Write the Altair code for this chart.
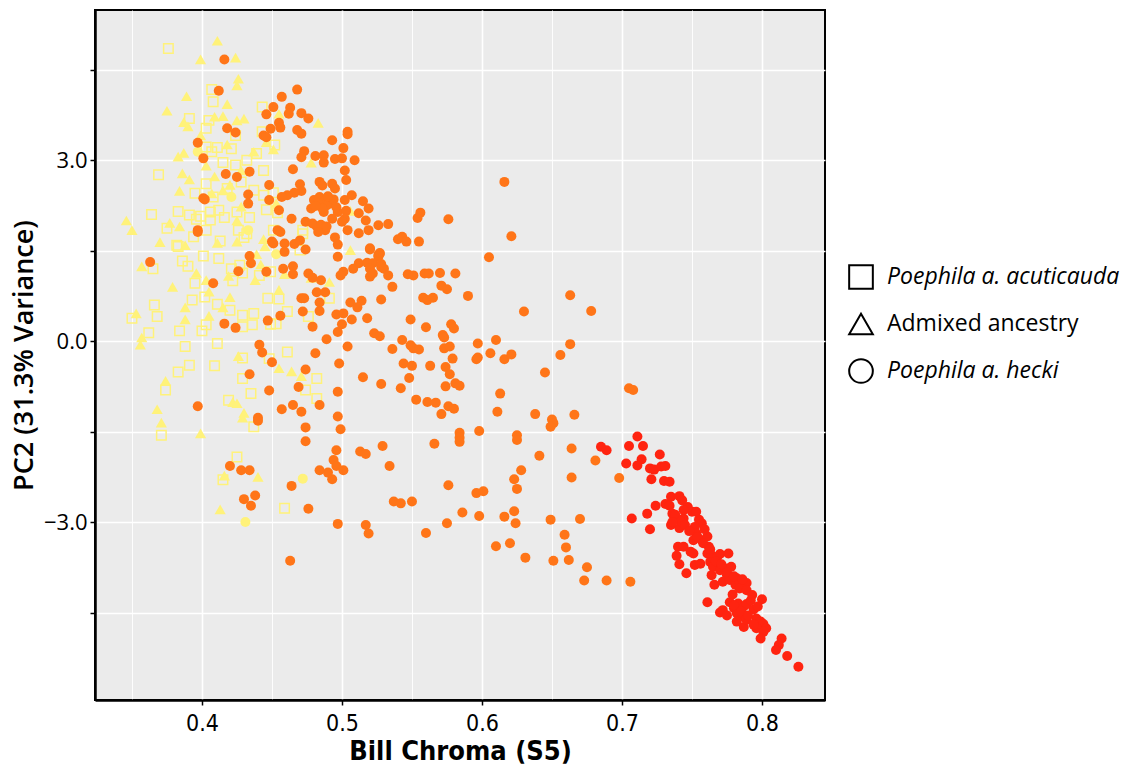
import altair as alt
import pandas as pd

# ---------------- data (Bill Chroma S5, PC2) ----------------
acuticauda_pts = [
    (0.376, 4.85), (0.407, 4.17), (0.408, 3.97), (0.443, 3.88), (0.391, 3.69), (0.405, 3.66),
    (0.403, 3.53), (0.424, 3.41), (0.443, 3.47), (0.452, 3.25), (0.403, 3.22), (0.411, 3.21),
    (0.421, 3.19), (0.439, 3.11), (0.407, 3.14), (0.415, 2.96), (0.424, 2.92), (0.432, 3.00),
    (0.369, 2.76), (0.444, 2.83), (0.403, 2.61), (0.418, 2.53), (0.428, 2.64), (0.395, 2.45),
    (0.408, 2.39), (0.437, 2.50), (0.444, 2.42), (0.451, 2.46), (0.364, 2.10), (0.383, 2.15),
    (0.391, 2.09), (0.399, 2.07), (0.406, 2.14), (0.412, 2.17), (0.425, 2.14), (0.434, 2.05),
    (0.446, 2.18), (0.454, 2.13), (0.375, 1.87), (0.403, 1.84), (0.426, 1.84), (0.394, 1.73),
    (0.382, 1.59), (0.413, 1.66), (0.430, 1.72), (0.451, 1.84), (0.472, 1.84), (0.396, 2.02),
    (0.416, 2.05), (0.406, 2.01),
    (0.383, 1.57), (0.386, 1.33), (0.390, 1.24), (0.365, 1.20), (0.366, 0.60), (0.368, 0.41),
    (0.350, 0.38), (0.362, 0.14), (0.384, 0.17), (0.388, -0.09), (0.383, -0.51), (0.391, -0.40),
    (0.374, -0.81), (0.371, -1.56), (0.401, 1.41), (0.412, 1.37), (0.395, 0.96), (0.402, 0.73),
    (0.393, 0.68), (0.411, 0.61), (0.400, 0.17), (0.411, -0.04), (0.409, -0.41), (0.403, 0.27),
    (0.421, 1.20), (0.422, 1.00), (0.427, 1.26), (0.429, 1.13), (0.420, 0.51), (0.429, 0.43),
    (0.437, 0.46), (0.429, 0.24), (0.436, 0.27), (0.447, 0.71), (0.455, 0.70), (0.461, 0.49),
    (0.453, 0.29), (0.449, 0.28), (0.441, 1.09), (0.449, 1.15), (0.461, -0.18), (0.448, -0.29),
    (0.429, -0.28), (0.429, -0.62), (0.435, -0.87), (0.419, -0.98), (0.437, -1.42), (0.425, -1.92),
    (0.459, -2.77), (0.482, -0.62), (0.474, -0.81), (0.482, -0.95), (0.491, 0.71), (0.476, 0.41),
    (0.470, 1.51), (0.472, 1.78), (0.432, 1.78), (0.415, -2.30),
]

admixed_pts = [
    (0.411, 4.98), (0.399, 4.67), (0.424, 4.70), (0.426, 4.35), (0.425, 4.24), (0.389, 4.06),
    (0.375, 3.82), (0.418, 3.93), (0.387, 3.63), (0.390, 3.56), (0.409, 3.72), (0.415, 3.73),
    (0.425, 3.66), (0.430, 3.69), (0.455, 3.77), (0.483, 3.62), (0.399, 3.41), (0.418, 3.26),
    (0.437, 3.14), (0.451, 3.18), (0.446, 3.30), (0.383, 3.06), (0.387, 3.12), (0.403, 2.91),
    (0.478, 2.96), (0.386, 2.78), (0.391, 2.68), (0.409, 2.73), (0.428, 2.83), (0.420, 2.59),
    (0.384, 2.49), (0.415, 2.50), (0.407, 2.45), (0.428, 2.23), (0.453, 2.29), (0.346, 2.00),
    (0.350, 1.84), (0.377, 1.96), (0.384, 1.90), (0.425, 2.00), (0.370, 1.64), (0.388, 1.59),
    (0.411, 1.63), (0.444, 1.69), (0.506, 2.16),
    (0.425, 1.65), (0.445, 1.57), (0.357, 1.24), (0.379, 0.90), (0.396, 1.13), (0.403, 1.01),
    (0.405, 0.82), (0.419, 1.08), (0.438, 1.01), (0.442, 1.27), (0.459, 1.11), (0.455, 0.85),
    (0.439, 1.44), (0.506, 1.51), (0.478, 1.05), (0.491, 0.98), (0.420, 0.73), (0.388, 0.56),
    (0.388, 0.36), (0.405, 0.42), (0.415, 0.56), (0.353, 0.46), (0.357, 0.06), (0.356, -0.06),
    (0.426, -0.25), (0.455, -0.45), (0.464, -0.50), (0.471, -0.58), (0.374, -0.66), (0.368, -1.13),
    (0.371, -1.35), (0.399, -1.53), (0.422, -1.01), (0.425, -1.03), (0.430, -1.19), (0.429, -1.27),
    (0.416, -2.23), (0.440, -2.25), (0.413, -2.79),
]

hecki_yellow_pts = [
    (0.397, 3.14), (0.421, 2.39), (0.433, 1.84), (0.453, 1.44), (0.472, -2.28), (0.431, -3.00),
]

hecki_orange_pts = [
    (0.416, 4.67), (0.412, 4.15), (0.418, 3.53), (0.424, 3.46), (0.397, 3.29), (0.401, 3.03),
    (0.417, 2.77), (0.425, 2.72), (0.434, 2.81), (0.401, 2.37), (0.402, 2.35), (0.433, 2.43),
    (0.433, 2.28), (0.397, 1.84),
    (0.468, 4.17), (0.457, 4.05), (0.451, 3.88), (0.463, 3.87), (0.446, 3.76), (0.462, 3.77),
    (0.471, 3.78), (0.476, 3.69), (0.455, 3.62), (0.456, 3.54), (0.449, 3.52), (0.444, 3.41),
    (0.446, 3.38), (0.468, 3.50), (0.471, 3.44), (0.493, 3.33), (0.504, 3.47), (0.504, 3.43),
    (0.501, 3.20), (0.473, 3.15), (0.471, 3.05), (0.481, 3.07), (0.487, 3.08), (0.487, 2.96),
    (0.495, 3.02), (0.500, 3.03), (0.509, 3.00), (0.502, 2.83), (0.503, 2.67), (0.465, 2.85),
    (0.484, 2.64), (0.493, 2.61), (0.470, 2.60), (0.471, 2.49), (0.466, 2.46), (0.461, 2.42),
    (0.457, 2.39), (0.448, 2.59), (0.448, 2.34), (0.486, 2.58), (0.495, 2.53), (0.507, 2.42),
    (0.480, 2.34), (0.484, 2.39), (0.487, 2.31), (0.491, 2.28), (0.478, 2.20), (0.487, 2.14),
    (0.497, 2.14), (0.502, 2.34), (0.503, 2.16), (0.502, 2.03), (0.512, 2.12), (0.515, 2.32),
    (0.519, 2.20), (0.517, 2.00), (0.464, 2.03), (0.474, 1.98), (0.482, 1.90), (0.484, 1.84),
    (0.488, 1.84), (0.493, 2.03), (0.455, 2.17), (0.454, 1.84), (0.456, 1.81), (0.500, 1.98),
    (0.526, 1.92), (0.533, 1.94), (0.519, 1.84), (0.495, 1.72), (0.450, 1.65),
    (0.489, 2.25), (0.483, 2.28), (0.494, 2.35), (0.490, 2.40), (0.486, 2.20), (0.481, 2.24),
    (0.496, 2.22), (0.479, 1.95), (0.485, 1.93), (0.489, 1.90),
    (0.397, 1.81), (0.363, 1.31), (0.408, 0.96), (0.426, 1.16), (0.434, 1.41), (0.435, 1.29),
    (0.446, 1.15), (0.451, 1.62), (0.459, 1.62), (0.459, 1.48), (0.466, 1.61), (0.470, 1.67),
    (0.474, 1.52), (0.458, 1.20), (0.465, 1.24), (0.465, 1.11), (0.476, 1.12), (0.479, 1.05),
    (0.485, 1.01), (0.482, 0.81), (0.488, 0.81), (0.471, 0.71), (0.473, 0.71), (0.484, 0.64),
    (0.484, 0.50), (0.472, 0.49), (0.497, 1.40), (0.497, 1.60), (0.483, 1.81), (0.504, 1.84),
    (0.512, 1.79), (0.520, 1.52), (0.527, 1.45), (0.526, 1.40), (0.512, 1.29), (0.518, 1.30),
    (0.522, 1.29), (0.520, 1.20), (0.508, 1.20), (0.501, 1.15), (0.499, 1.09), (0.520, 1.07),
    (0.522, 1.12), (0.528, 1.23), (0.506, 0.64), (0.514, 0.67), (0.511, 0.56), (0.496, 0.44),
    (0.501, 0.46), (0.507, 0.36), (0.518, 0.38), (0.500, 0.28), (0.497, 0.15), (0.528, 0.69),
    (0.523, 0.13), (0.527, 0.08), (0.489, 0.03), (0.504, -0.09), (0.479, 0.24), (0.447, 0.34),
    (0.456, 0.42), (0.416, 0.29), (0.424, 0.22), (0.441, -0.06), (0.443, -0.19), (0.450, -0.35),
    (0.481, -0.20), (0.498, -0.37), (0.474, -0.47), (0.469, -0.76), (0.465, -1.06), (0.457, -1.13),
    (0.471, -1.17), (0.484, -1.06), (0.497, -0.84), (0.448, -0.82), (0.434, -0.55), (0.515, -0.60),
    (0.528, -0.71), (0.397, -1.08), (0.440, -1.27), (0.440, -1.32), (0.497, -1.25), (0.499, -1.46),
    (0.474, -1.43), (0.474, -1.66), (0.496, -1.81), (0.494, -1.97), (0.496, -2.07), (0.501, -2.14),
    (0.493, -2.29), (0.490, -2.18), (0.484, -2.14), (0.513, -1.83), (0.517, -1.87), (0.529, -1.74),
    (0.534, -2.07), (0.420, -2.07), (0.428, -2.14), (0.434, -2.14), (0.464, -2.40), (0.430, -2.62),
    (0.438, -2.56), (0.435, -2.73), (0.476, -2.78), (0.497, -3.03), (0.517, -3.05), (0.519, -3.19),
    (0.463, -3.64),
    (0.554, 2.04), (0.556, 2.13), (0.576, 2.02), (0.540, 1.69), (0.543, 1.73), (0.546, 1.65),
    (0.555, 1.65), (0.520, 1.54), (0.526, 1.43), (0.527, 1.46), (0.528, 1.28), (0.530, 1.20),
    (0.533, 1.09), (0.536, 0.90), (0.547, 1.11), (0.551, 1.09), (0.559, 1.12), (0.562, 1.12),
    (0.570, 1.13), (0.581, 1.12), (0.571, 0.92), (0.575, 0.86), (0.558, 0.72), (0.561, 0.68),
    (0.565, 0.72), (0.616, 2.64), (0.621, 1.74), (0.605, 1.39), (0.663, 0.76), (0.678, 0.50),
    (0.630, 0.49), (0.590, 0.75),
    (0.549, 0.36), (0.560, 0.23), (0.578, 0.28), (0.580, 0.21), (0.572, 0.10), (0.573, 0.06),
    (0.543, 0.02), (0.536, -0.13), (0.549, -0.07), (0.551, -0.12), (0.555, -0.14), (0.573, -0.12),
    (0.577, -0.09), (0.597, -0.04), (0.610, 0.02), (0.663, -0.05), (0.606, -0.20), (0.596, -0.30),
    (0.597, -0.27), (0.616, -0.30), (0.621, -0.22), (0.656, -0.23), (0.544, -0.37), (0.550, -0.41),
    (0.563, -0.41), (0.574, -0.43), (0.579, -0.29), (0.577, -0.55), (0.548, -0.61), (0.542, -0.78),
    (0.574, -0.75), (0.581, -0.70), (0.584, -0.74), (0.645, -0.52), (0.553, -0.97), (0.561, -1.01),
    (0.567, -1.02), (0.571, -1.21), (0.576, -1.08), (0.580, -1.12), (0.613, -0.87), (0.611, -1.17),
    (0.638, -1.21), (0.650, -1.30), (0.651, -1.36), (0.649, -1.42), (0.666, -1.22), (0.705, -0.78),
    (0.708, -0.81), (0.566, -1.70), (0.584, -1.52), (0.584, -1.60), (0.584, -1.67), (0.598, -1.49),
    (0.625, -1.56), (0.625, -1.64), (0.641, -1.90), (0.664, -1.78), (0.681, -1.98), (0.698, -2.27),
    (0.628, -2.14), (0.623, -2.29), (0.625, -2.45), (0.664, -2.26), (0.576, -2.39), (0.596, -2.52),
    (0.601, -2.49), (0.537, -2.66), (0.542, -2.69), (0.550, -2.66), (0.586, -2.84), (0.598, -2.90),
    (0.616, -2.91), (0.623, -2.82), (0.624, -3.02), (0.649, -2.96), (0.670, -2.95), (0.575, -3.02),
    (0.560, -3.18), (0.610, -3.40), (0.620, -3.35), (0.659, -3.21), (0.660, -3.42), (0.631, -3.59),
    (0.651, -3.64), (0.662, -3.63), (0.675, -3.75), (0.673, -3.97), (0.689, -3.97), (0.706, -3.99),
]

hecki_red_pts = [
    (0.711, -1.58), (0.685, -1.75), (0.689, -1.81), (0.705, -1.74), (0.715, -1.74), (0.727, -1.88),
    (0.714, -1.96), (0.703, -2.03), (0.711, -2.06), (0.720, -2.11), (0.723, -2.13), (0.728, -2.08),
    (0.731, -2.07), (0.721, -2.29), (0.730, -2.32), (0.734, -2.33), (0.735, -2.58), (0.741, -2.57),
    (0.743, -2.64), (0.731, -2.70), (0.734, -2.73), (0.724, -2.73), (0.718, -2.86), (0.707, -2.94),
    (0.720, -3.12), (0.736, -2.86), (0.738, -2.94), (0.735, -3.05), (0.741, -3.10), (0.744, -2.94),
    (0.750, -2.83), (0.753, -2.83), (0.755, -2.96), (0.757, -3.02), (0.752, -3.08), (0.753, -3.19),
    (0.751, -3.30), (0.757, -3.30), (0.761, -3.24), (0.762, -3.41), (0.740, -3.41), (0.744, -3.41),
    (0.739, -3.56), (0.741, -3.70), (0.746, -3.85), (0.749, -3.49), (0.751, -3.52), (0.752, -3.71),
    (0.756, -3.69), (0.761, -3.52), (0.764, -3.55), (0.768, -3.58), (0.770, -3.53), (0.776, -3.52),
    (0.763, -3.66), (0.765, -3.74), (0.764, -3.88), (0.766, -4.04), (0.770, -3.80), (0.774, -3.77),
    (0.778, -3.74), (0.775, -3.88), (0.772, -3.99), (0.777, -3.96), (0.782, -3.93), (0.781, -4.04),
    (0.784, -3.99), (0.789, -4.01), (0.784, -4.10), (0.789, -4.13), (0.793, -4.21), (0.800, -4.28),
    (0.761, -4.33), (0.770, -4.50), (0.772, -4.46), (0.777, -4.33), (0.780, -4.43), (0.783, -4.35),
    (0.787, -4.40), (0.789, -4.36), (0.794, -4.45), (0.782, -4.51), (0.786, -4.56), (0.782, -4.65),
    (0.787, -4.74), (0.789, -4.62), (0.796, -4.60), (0.799, -4.65), (0.801, -4.69), (0.803, -4.76),
    (0.796, -4.76), (0.801, -4.82), (0.799, -4.93), (0.814, -4.93), (0.812, -5.04), (0.810, -5.12),
    (0.818, -5.22), (0.826, -5.40),
    (0.738, -2.88), (0.742, -2.99), (0.745, -3.05), (0.736, -3.00), (0.748, -3.15), (0.754, -3.25),
    (0.758, -3.35), (0.775, -3.83), (0.780, -3.90), (0.786, -3.95), (0.780, -4.38), (0.785, -4.48),
    (0.790, -4.55), (0.747, -2.75), (0.744, -2.80), (0.759, -3.12), (0.763, -3.45), (0.767, -3.65),
    (0.771, -3.70), (0.779, -4.20), (0.792, -4.30), (0.797, -4.40), (0.775, -4.55), (0.794, -4.70),
]

species_names = ["Poephila a. acuticauda", "Admixed ancestry", "Poephila a. hecki"]
species_shapes = ["square", "triangle-up", "circle"]
group_names = ["yellow", "orange", "red"]
group_colors = ["#FFF27A", "#FF7518", "#FF2410"]

x_ticks = [0.35, 0.40, 0.45, 0.50, 0.55, 0.60, 0.65, 0.70, 0.75, 0.80]
y_ticks = [-4.5, -3.0, -1.5, 0.0, 1.5, 3.0, 4.5]
x_domain = [0.3236, 0.845]
y_domain = [-5.95, 5.49]

rows = []
for pts, sp, grp in [
    (acuticauda_pts, species_names[0], "yellow"),
    (admixed_pts, species_names[1], "yellow"),
    (hecki_yellow_pts, species_names[2], "yellow"),
    (hecki_orange_pts, species_names[2], "orange"),
    (hecki_red_pts, species_names[2], "red"),
]:
    for x, y in pts:
        rows.append({"chroma": x, "pc2": y, "species": sp, "grp": grp})
df = pd.DataFrame(rows)

wide_font = "Open Sans"
narrow_font = "Liberation Sans Narrow, DejaVu Sans Condensed, sans-serif"
major_test = "abs(datum.value*10 - round(datum.value*10)) < 0.001"

x_enc = alt.X(
    "chroma:Q",
    scale=alt.Scale(domain=x_domain, nice=False, zero=False),
    axis=alt.Axis(
        values=x_ticks,
        title="Bill Chroma (S5)",
        labelExpr=major_test + " ? format(datum.value, '.1f') : ''",
        gridWidth={"condition": {"test": major_test, "value": 1.6}, "value": 0.9},
        tickOpacity={"condition": {"test": major_test, "value": 1}, "value": 0},
        labelFont=narrow_font, labelFontSize=23, labelColor="black", labelPadding=7,
        titleFont=narrow_font, titleFontSize=27, titleFontWeight="bold", titleColor="black", titlePadding=3,
        tickSize=5, tickWidth=1.5, tickColor="black",
        domainColor="black", domainWidth=2.5,
        gridColor="white",
    ),
)
y_enc = alt.Y(
    "pc2:Q",
    scale=alt.Scale(domain=y_domain, nice=False, zero=False),
    axis=alt.Axis(
        values=y_ticks,
        title="PC2 (31.3% Variance)",
        labelExpr="abs(datum.value % 3) < 0.001 ? format(datum.value, '.1f') : ''",
        labelFont=wide_font, labelFontSize=22, labelColor="black", labelPadding=3,
        titleFont=wide_font, titleFontSize=27, titleFontWeight=600, titleColor="black", titlePadding=5,
        tickSize=5, tickWidth=1.5, tickColor="black",
        domainColor="black", domainWidth=2.5,
        gridColor="white", gridWidth=1.3,
    ),
)
shape_enc = alt.Shape(
    "species:N",
    scale=alt.Scale(domain=species_names, range=species_shapes),
    legend=alt.Legend(
        title=None, orient="none", legendX=753, legendY=254,
        symbolSize=560, symbolStrokeWidth=2, symbolStrokeColor="black", symbolFillColor="white",
        labelFont=wide_font, labelFontSize=23, labelColor="black", labelLimit=500,
        labelFontStyle=alt.ExprRef("datum.label == 'Admixed ancestry' ? 'normal' : 'italic'"),
        labelOffset=13, rowPadding=16,
    ),
)
color_scale = alt.Scale(domain=group_names, range=group_colors)

base = alt.Chart(df)
squares = base.transform_filter(alt.datum.species == species_names[0]).mark_point(
    filled=False, size=90, strokeWidth=1.5, opacity=1
).encode(x=x_enc, y=y_enc, shape=shape_enc,
         color=alt.Color("grp:N", scale=color_scale, legend=None))
triangles = base.transform_filter(alt.datum.species == species_names[1]).mark_point(
    filled=True, size=125, opacity=1
).encode(x=x_enc, y=y_enc, shape=shape_enc,
         color=alt.Color("grp:N", scale=color_scale, legend=None))
circles = base.transform_filter(alt.datum.species == species_names[2]).mark_point(
    filled=True, size=100, opacity=1
).encode(x=x_enc, y=y_enc, shape=shape_enc,
         color=alt.Color("grp:N", scale=color_scale, legend=None))

chart = alt.layer(squares, triangles, circles).properties(
    width=730, height=690,
    autosize=alt.AutoSizeParams(type="none"),
    padding={"left": 95, "top": 10, "right": 308, "bottom": 70},
    background="white",
).configure_view(
    fill="#EBEBEB", stroke="black", strokeWidth=2
)

chart.save("out.html", embed_options={"renderer": "svg", "actions": False})
